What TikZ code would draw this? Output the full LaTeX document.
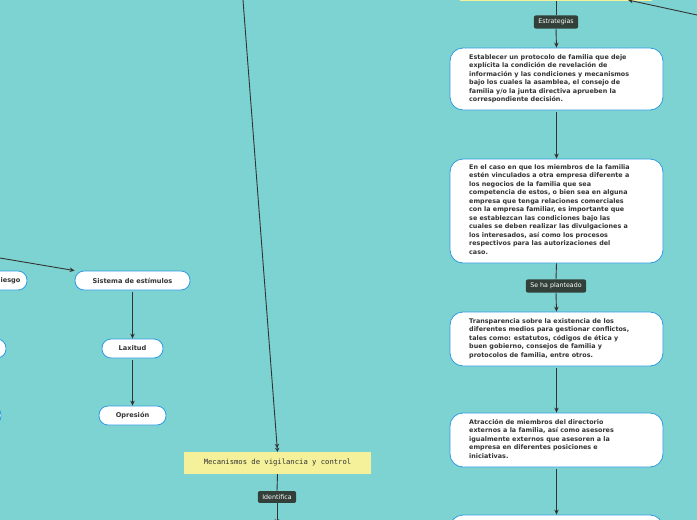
\documentclass[tikz,border=0pt]{standalone}
\usepackage{fontspec}
\setmainfont{DejaVu Sans}
\setmonofont{DejaVu Sans Mono}
\usetikzlibrary{arrows.meta}
\definecolor{bg}{HTML}{7DD3D2}
\definecolor{bord}{HTML}{2E9BE0}
\definecolor{lab}{HTML}{33403A}
\definecolor{yel}{HTML}{F5F19A}
\definecolor{ln}{HTML}{333333}
\tikzset{
 x=1pt,y=-1pt,
 card/.style={draw=bord,fill=white,rounded corners=13pt,line width=0.8pt,inner sep=0pt},
 cardtxt/.style={anchor=north west,align=left,font=\bfseries\fontsize{6.4}{8.5}\selectfont,text=ln,inner sep=0pt},
 pill/.style={draw=bord,fill=white,rounded corners=9pt,line width=0.8pt,font=\bfseries\fontsize{6.6}{7}\selectfont,text=ln,inner sep=0pt},
 tag/.style={fill=lab,rounded corners=2pt,text=white,font=\fontsize{6.3}{7}\selectfont,inner xsep=4.5pt,inner ysep=3.5pt},
 conn/.style={draw=ln,line width=0.9pt},
 arr/.style={conn,-{Stealth[length=5pt,width=4.5pt]}},
}
\begin{document}
\begin{tikzpicture}
\fill[bg] (0,0) rectangle (697,520);
\clip (0,0) rectangle (697,520);
% top yellow box
\node[fill=yel,minimum width=192pt,minimum height=12pt,inner sep=0pt] (top) at (556,-5) {};
\coordinate (tr) at (697,15);
\draw[arr] (tr) -- (628,0);
% right column
\node[card,minimum width=213pt,minimum height=62pt] (b1) at (556.5,79) {};
\node[cardtxt] at (469,54) {Establecer un protocolo de familia que deje\\explícita la condición de revelación de\\información y las condiciones y mecanismos\\bajo los cuales la asamblea, el consejo de\\familia y/o la junta directiva aprueben la\\correspondiente decisión.};
\node[card,minimum width=213pt,minimum height=104pt] (b2) at (556.5,211) {};
\node[cardtxt] at (469,164) {En el caso en que los miembros de la familia\\estén vinculados a otra empresa diferente a\\los negocios de la familia que sea\\competencia de estos, o bien sea en alguna\\empresa que tenga relaciones comerciales\\con la empresa familiar, es importante que\\se establezcan las condiciones bajo las\\cuales se deben realizar las divulgaciones a\\los interesados, así como los procesos\\respectivos para las autorizaciones del\\caso.};
\node[card,minimum width=213pt,minimum height=54pt] (b3) at (556.5,339) {};
\node[cardtxt] at (469,318) {Transparencia sobre la existencia de los\\diferentes medios para gestionar conflictos,\\tales como: estatutos, códigos de ética y\\buen gobierno, consejos de familia y\\protocolos de familia, entre otros.};
\node[card,minimum width=213pt,minimum height=54pt] (b4) at (556.5,440) {};
\node[cardtxt] at (469,419) {Atracción de miembros del directorio\\externos a la familia, así como asesores\\igualmente externos que asesoren a la\\empresa en diferentes posiciones e\\iniciativas.};
\node[card,minimum width=213pt,minimum height=54pt] (b5) at (556.5,542) {};
\node[tag] (t1) at (556,22) {Estrategias};
\node[tag] (t2) at (556,286) {Se ha planteado};
\draw[conn] (556,1) -- (t1.north);
\draw[arr] (t1.south) -- (b1.north);
\draw[arr] (b1.south) ++(0,2) -- (b2.north);
\draw[conn] (b2.south) -- (t2.north);
\draw[arr] (t2.south) -- (b3.north);
\draw[arr] (b3.south) ++(0,2) -- (b4.north);
\draw[arr] (b4.south) ++(0,2) -- (b5.north);
% middle
\node[fill=yel,minimum width=187pt,minimum height=22pt,inner sep=0pt,font=\ttfamily\fontsize{7.2}{8}\selectfont,text=ln] (mec) at (277.5,463) {Mecanismos de vigilancia y control};
\coordinate (mt) at (243,0);
\draw[conn,-{Stealth[length=4pt,width=4.5pt]Stealth[length=4pt,width=4.5pt]}] (mt) -- (mec.north);
\node[tag] (t3) at (277,497) {Identifica};
\draw[conn] (mec.south) -- (t3.north);
\coordinate (mb) at (277,524);
\draw[arr] (t3.south) -- (mb);
% left
\node[pill,minimum width=115pt,minimum height=19pt] (se) at (132.5,280.5) {Sistema de estímulos};
\node[pill,minimum width=61pt,minimum height=19pt] (lax) at (132.5,348.5) {Laxitud};
\node[pill,minimum width=67pt,minimum height=19pt] (opr) at (132.5,415.5) {Opresión};
\node[pill,minimum width=70pt,minimum height=19pt,text width=57pt,align=right] (rg) at (-8,280.5) {Riesgo};
\node[pill,minimum width=60pt,minimum height=19pt] (lp) at (-24,348.5) {};
\node[pill,minimum width=60pt,minimum height=19pt] (lq) at (-29,415.5) {};
\coordinate (ls) at (0,258);
\draw[arr] (ls) -- (se.north west);
\draw[arr] (se.south) ++(0,2) -- (lax.north);
\draw[arr] (lax.south) ++(0,2) -- (opr.north);
\end{tikzpicture}
\end{document}
